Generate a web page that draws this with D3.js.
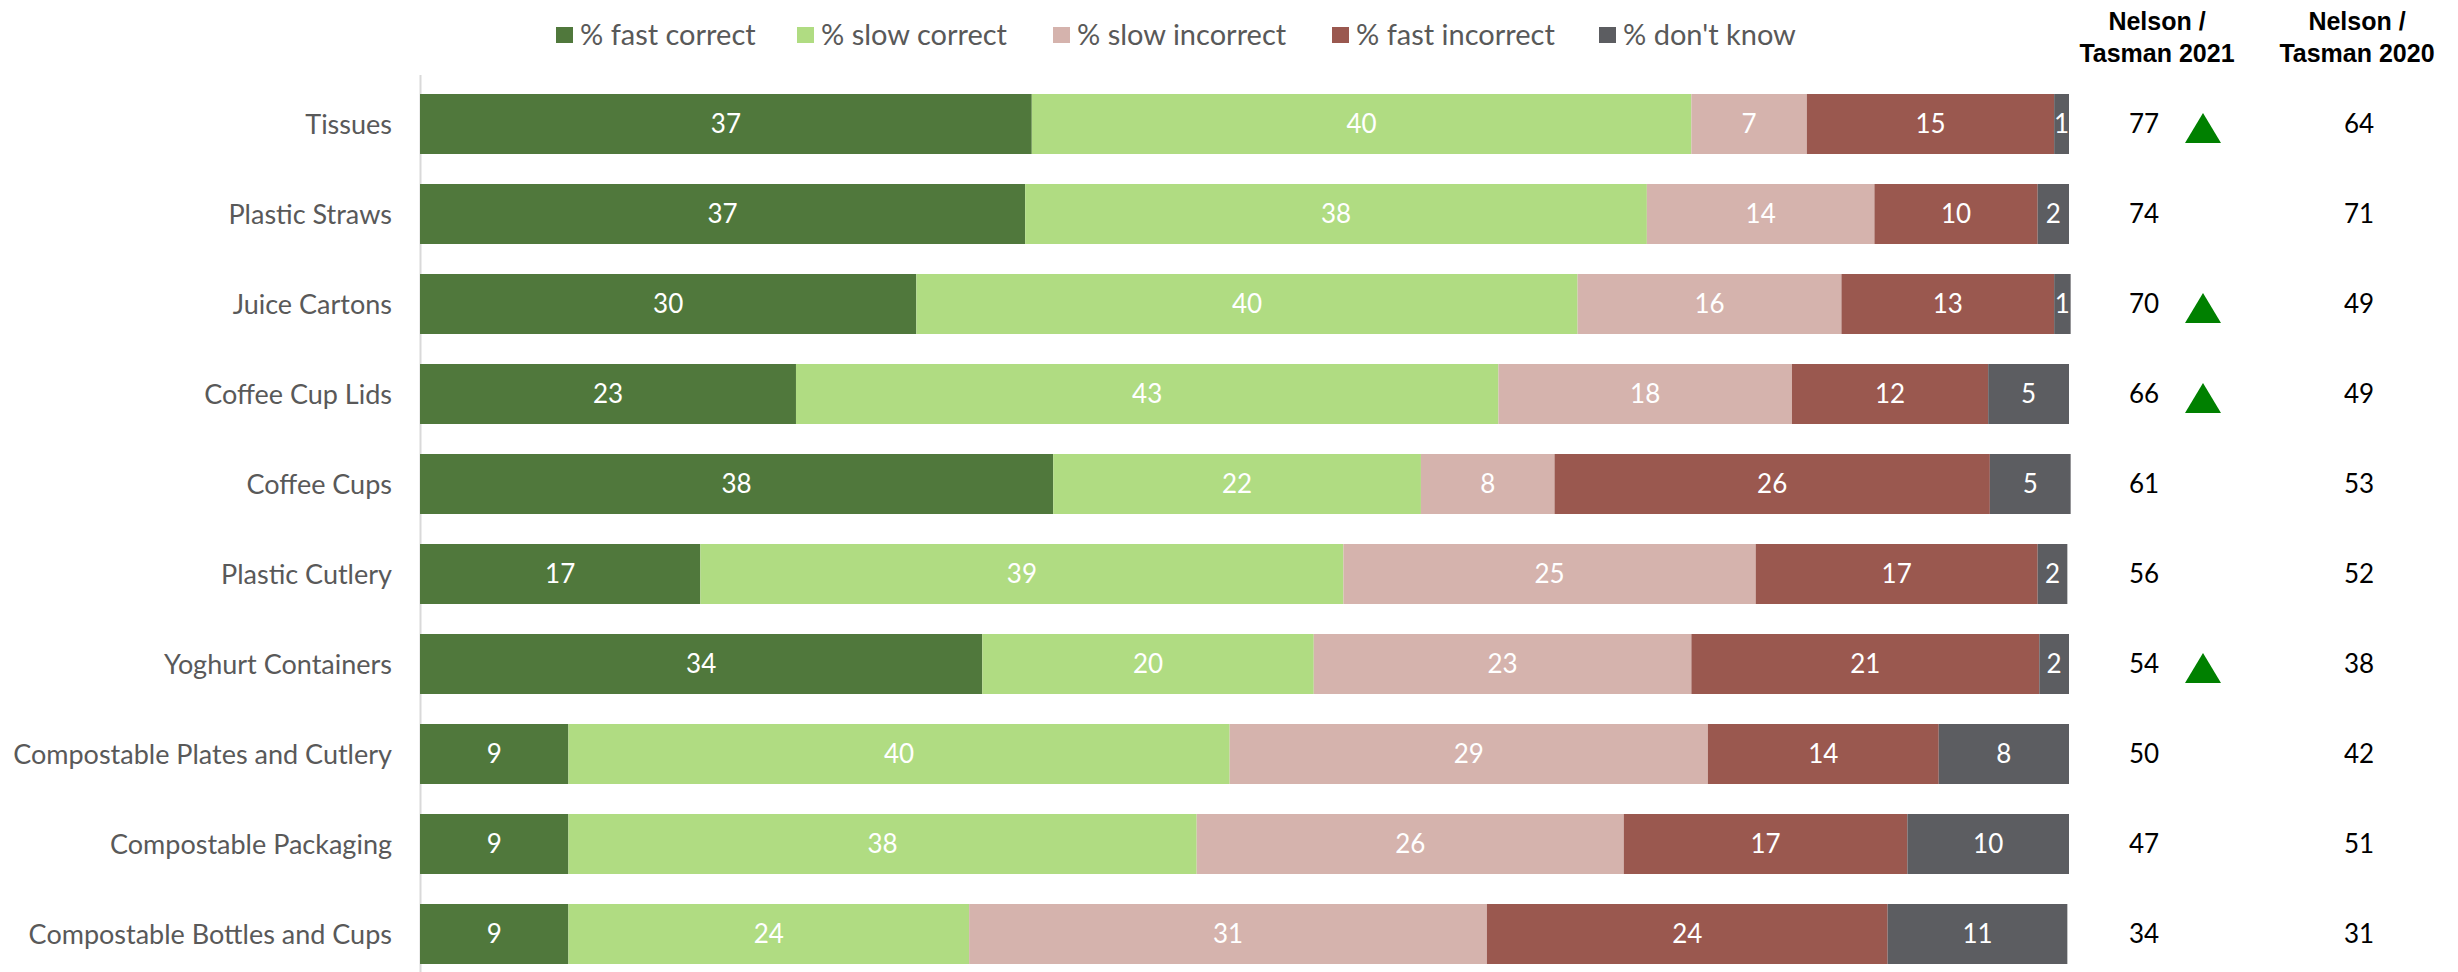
<!DOCTYPE html>
<html>
<head>
<meta charset="utf-8">
<script src="https://cdn.jsdelivr.net/npm/d3@7"></script>
<style>
  body { margin: 0; background: #fff; }
  svg { display: block; }
  .cat-label, .legend-label { font-family: Lato, "Open Sans", sans-serif; fill: #595959; }
  .seg-label { font-family: Lato, "Open Sans", sans-serif; fill: #fff; }
  .score { font-family: Lato, "Open Sans", sans-serif; fill: #000; }
  .col-head { font-family: "Liberation Sans Narrow", "Arial Narrow", "Liberation Sans", sans-serif; font-weight: bold; fill: #000; }
</style>
</head>
<body>
<svg width="2458" height="972"></svg>
<script>
let categories = ["Tissues", "Plastic Straws", "Juice Cartons", "Coffee Cup Lids", "Coffee Cups",
    "Plastic Cutlery", "Yoghurt Containers", "Compostable Plates and Cutlery",
    "Compostable Packaging", "Compostable Bottles and Cups"];

let seriesNames = ["% fast correct", "% slow correct", "% slow incorrect", "% fast incorrect", "% don't know"];
let seriesColors = ["#50783c", "#b0dc82", "#d5b3ad", "#9a584f", "#5c5d61"];

// values
let fastCorrect   = [37.1, 36.7, 30.1, 22.8, 38.4, 17.0, 34.1, 9.0, 9.0, 9.0];
let slowCorrect   = [40.0, 37.7, 40.1, 42.6, 22.3, 39.0, 20.1, 40.1, 38.1, 24.3];
let slowIncorrect = [7.0, 13.8, 16.0, 17.8, 8.1, 25.0, 22.9, 29.0, 25.9, 31.4];
let fastIncorrect = [15.0, 9.9, 12.9, 11.9, 26.4, 17.1, 21.1, 14.0, 17.2, 24.3];
let dontKnow      = [0.9, 1.9, 1.0, 4.9, 4.9, 1.8, 1.8, 7.9, 9.8, 10.9];

let score2021 = [77, 74, 70, 66, 61, 56, 54, 50, 47, 34];
let score2020 = [64, 71, 49, 49, 53, 52, 38, 42, 51, 31];
let increased = [true, false, true, true, false, false, true, false, false, false];

let colHeads = [["Nelson /", "Tasman 2021"], ["Nelson /", "Tasman 2020"]];

let series = [fastCorrect, slowCorrect, slowIncorrect, fastIncorrect, dontKnow];

let rows = categories.map((c, i) => {
    let r = {category: c};
    seriesNames.forEach((s, j) => r[s] = series[j][i]);
    return r;
});

let svg = d3.select("svg");

let x = d3.scaleLinear().domain([0, 100]).range([420, 2069]);
let y = d3.scaleBand().domain(categories).range([79, 979]).paddingInner(1 / 3).paddingOuter(1 / 6);
let color = d3.scaleOrdinal().domain(seriesNames).range(seriesColors);

let stacked = d3.stack().keys(seriesNames)(rows);

// axis line
svg.append("line")
    .attr("x1", 420.5).attr("x2", 420.5)
    .attr("y1", 75).attr("y2", 972)
    .attr("stroke", "#d9d9d9").attr("stroke-width", 2);

let layers = svg.append("g").selectAll("g.layer")
    .data(stacked)
    .enter().append("g")
    .attr("class", "layer")
    .attr("fill", d => color(d.key));

layers.selectAll("rect")
    .data(d => d)
    .enter().append("rect")
    .attr("x", d => x(d[0]))
    .attr("y", d => y(d.data.category))
    .attr("width", d => x(d[1]) - x(d[0]))
    .attr("height", y.bandwidth());

layers.selectAll("text")
    .data(d => d)
    .enter().append("text")
    .attr("class", "seg-label")
    .attr("x", d => (x(d[0]) + x(d[1])) / 2)
    .attr("y", d => y(d.data.category) + y.bandwidth() / 2)
    .attr("dy", "0.36em")
    .attr("text-anchor", "middle")
    .attr("font-size", 26)
    .text(d => Math.round(d[1] - d[0]));

// category labels
svg.append("g").selectAll("text")
    .data(categories)
    .enter().append("text")
    .attr("class", "cat-label")
    .attr("x", 392)
    .attr("y", d => y(d) + y.bandwidth() / 2)
    .attr("dy", "0.36em")
    .attr("text-anchor", "end")
    .attr("font-size", 27)
    .text(d => d);

// legend
let legendX = [556, 797, 1053, 1332, 1599];
let legend = svg.append("g").selectAll("g")
    .data(seriesNames)
    .enter().append("g")
    .attr("transform", (d, i) => `translate(${legendX[i]},0)`);
legend.append("rect")
    .attr("x", 0).attr("y", 27)
    .attr("width", 17).attr("height", 16)
    .attr("fill", d => color(d));
legend.append("text")
    .attr("class", "legend-label")
    .attr("x", 24).attr("y", 35)
    .attr("dy", "0.36em")
    .attr("font-size", 29)
    .text(d => d);

// right-hand columns
let colX = [2157, 2357];
colHeads.forEach((lines, k) => {
    svg.append("text")
        .attr("class", "col-head")
        .attr("x", colX[k]).attr("text-anchor", "middle")
        .attr("font-size", 25)
        .selectAll("tspan")
        .data(lines)
        .enter().append("tspan")
        .attr("x", colX[k])
        .attr("y", (d, i) => 30 + i * 32)
        .text(d => d);
});

svg.append("g").selectAll("text")
    .data(score2021)
    .enter().append("text")
    .attr("class", "score")
    .attr("x", 2144)
    .attr("y", (d, i) => y(categories[i]) + y.bandwidth() / 2)
    .attr("dy", "0.36em")
    .attr("text-anchor", "middle")
    .attr("font-size", 26)
    .text(d => d);

svg.append("g").selectAll("text")
    .data(score2020)
    .enter().append("text")
    .attr("class", "score")
    .attr("x", 2359)
    .attr("y", (d, i) => y(categories[i]) + y.bandwidth() / 2)
    .attr("dy", "0.36em")
    .attr("text-anchor", "middle")
    .attr("font-size", 26)
    .text(d => d);

svg.append("g").selectAll("path")
    .data(categories.filter((c, i) => increased[i]))
    .enter().append("path")
    .attr("d", c => {
        let cy = y(c) + y.bandwidth() / 2 + 4;
        return `M2203,${cy - 15}L2221,${cy + 15}L2185,${cy + 15}Z`;
    })
    .attr("fill", "#008000");
</script>
</body>
</html>
